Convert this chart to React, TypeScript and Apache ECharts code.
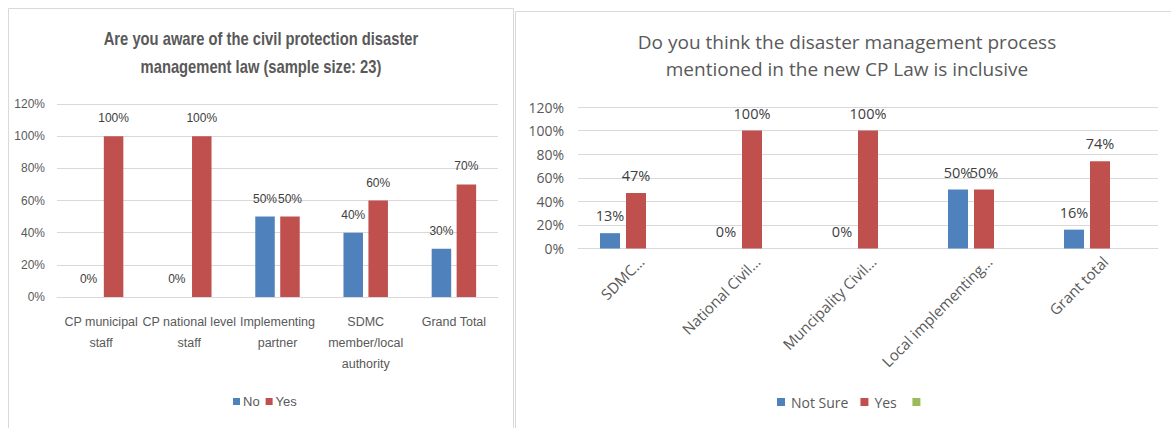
import React, { useEffect, useRef } from "react";
import * as echarts from "echarts";

const leftCategories = ["CP municipal\nstaff", "CP national level\nstaff", "Implementing\npartner", "SDMC\nmember/local\nauthority", "Grand Total"];
const leftNo = [0, 0, 50, 40, 30];
const leftYes = [100, 100, 50, 60, 70];

const rightCategories = ["SDMC…", "National Civil…", "Muncipality Civil…", "Local implementing…", "Grant total"];
const rightNotSure = [13, 0, 0, 50, 16];
const rightYes = [47, 100, 100, 50, 74];
const rightBlank = [null, null, null, null, null];

const leftTitle = "Are you aware of the civil protection disaster\nmanagement law (sample size: 23)";
const rightTitle = "Do you think the disaster management process\nmentioned in the new CP Law is inclusive";

const BLUE = "#4F81BD";
const RED = "#C0504D";
const GREEN = "#9BBB59";
const NARROW = "'Liberation Sans', Arial, sans-serif";
const SANS = "'Open Sans', 'Noto Sans', sans-serif";

export default function App() {
  const ref = useRef<HTMLDivElement>(null);
  useEffect(() => {
    if (!ref.current) return;
    const chart = echarts.init(ref.current, null, { renderer: "svg" });
    const pct = (p: any) => p.value + "%";
    const leftLabel = {
      show: true,
      position: "top",
      distance: 12,
      formatter: pct,
      color: "#404040",
      fontFamily: NARROW,
      fontSize: 12,
    };
    const rightLabel = {
      show: true,
      position: "top",
      distance: 10,
      formatter: pct,
      color: "#404040",
      fontFamily: SANS,
      fontSize: 14.5,
    };
    chart.setOption({
      animation: false,
      backgroundColor: "#ffffff",
      graphic: [
        { type: "rect", shape: { x: 8.5, y: 8.5, width: 505, height: 440 }, style: { fill: "none", stroke: "#D9D9D9", lineWidth: 1 } },
        { type: "rect", shape: { x: 515.5, y: 11.5, width: 700, height: 440 }, style: { fill: "none", stroke: "#D9D9D9", lineWidth: 1 } },
        {
          type: "text",
          x: 261,
          y: 52,
          scaleX: 0.82,
          style: {
            text: leftTitle,
            align: "center",
            verticalAlign: "middle",
            fontFamily: NARROW,
            fontWeight: "bold",
            fontSize: 18,
            lineHeight: 28,
            fill: "#595959",
          },
        },
        {
          type: "text",
          x: 847,
          y: 55.5,
          style: {
            text: rightTitle,
            align: "center",
            verticalAlign: "middle",
            fontFamily: SANS,
            fontSize: 19,
            lineHeight: 27,
            fill: "#595959",
          },
        },
      ],
      legend: [
        {
          data: ["No", "Yes"],
          left: 233,
          top: 395,
          padding: 0,
          itemWidth: 7,
          itemHeight: 7,
          itemGap: 6,
          icon: "rect",
          textStyle: { fontFamily: NARROW, fontSize: 13, color: "#595959", padding: [0, 0, 0, -2] },
        },
        {
          data: ["Not Sure", "Yes ", " "],
          left: 777,
          top: 395,
          padding: 0,
          itemWidth: 8,
          itemHeight: 8,
          itemGap: 12,
          icon: "rect",
          textStyle: { fontFamily: SANS, fontSize: 14, color: "#595959", padding: [0, 0, 0, 1] },
        },
      ],
      grid: [
        { left: 57, top: 104, width: 441, height: 193 },
        { left: 578, top: 107, width: 580, height: 141.5 },
      ],
      xAxis: [
        {
          type: "category",
          gridIndex: 0,
          data: leftCategories,
          axisTick: { show: false },
          axisLine: { show: true, lineStyle: { color: "#D9D9D9", width: 1 } },
          axisLabel: { interval: 0, margin: 14, lineHeight: 21, fontFamily: NARROW, fontSize: 12.5, color: "#595959" },
        },
        {
          type: "category",
          gridIndex: 1,
          data: rightCategories,
          axisTick: { show: false },
          axisLine: { show: true, lineStyle: { color: "#D9D9D9", width: 1 } },
          axisLabel: { interval: 0, rotate: 45, margin: 5, verticalAlign: "top", fontFamily: SANS, fontSize: 15, color: "#595959" },
        },
      ],
      yAxis: [
        {
          type: "value",
          gridIndex: 0,
          min: 0,
          max: 120,
          interval: 20,
          axisLine: { show: false },
          axisTick: { show: false },
          splitLine: { lineStyle: { color: "#D9D9D9", width: 1 } },
          axisLabel: { formatter: "{value}%", margin: 12, fontFamily: NARROW, fontSize: 12, color: "#595959" },
        },
        {
          type: "value",
          gridIndex: 1,
          min: 0,
          max: 120,
          interval: 20,
          axisLine: { show: false },
          axisTick: { show: false },
          splitLine: { lineStyle: { color: "#D9D9D9", width: 1 } },
          axisLabel: { formatter: "{value}%", margin: 14, fontFamily: SANS, fontSize: 14, color: "#595959" },
        },
      ],
      series: [
        { name: "No", type: "bar", xAxisIndex: 0, yAxisIndex: 0, data: leftNo, barWidth: 19.5, barGap: "28%", itemStyle: { color: BLUE }, label: leftLabel },
        { name: "Yes", type: "bar", xAxisIndex: 0, yAxisIndex: 0, data: leftYes, barWidth: 19.5, barGap: "28%", itemStyle: { color: RED }, label: leftLabel },
        { name: "Not Sure", type: "bar", xAxisIndex: 1, yAxisIndex: 1, data: rightNotSure, barWidth: 20, barGap: "30%", itemStyle: { color: BLUE }, label: rightLabel },
        { name: "Yes ", type: "bar", xAxisIndex: 1, yAxisIndex: 1, data: rightYes, barWidth: 20, barGap: "30%", itemStyle: { color: RED }, label: rightLabel },
        { name: " ", type: "bar", xAxisIndex: 1, yAxisIndex: 1, data: rightBlank, barWidth: 20, barGap: "30%", itemStyle: { color: GREEN } },
      ],
    });
    return () => chart.dispose();
  }, []);
  return <div ref={ref} style={{ position: "absolute", left: 0, top: 0, width: 1171, height: 428 }} />;
}
